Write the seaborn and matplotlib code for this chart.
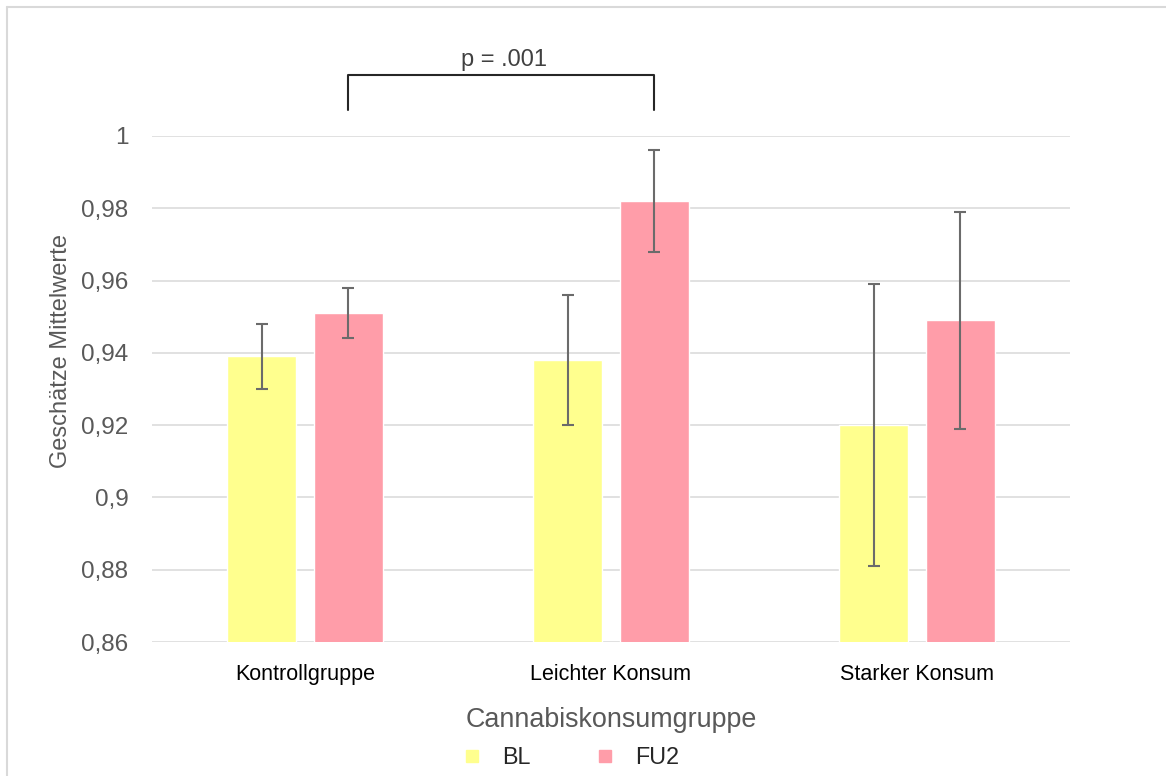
import pandas as pd
import seaborn as sns
import matplotlib.pyplot as plt
from matplotlib.lines import Line2D

# values
groups = ['Kontrollgruppe', 'Leichter Konsum', 'Starker Konsum']
times = ['BL', 'FU2']
bl_means = [0.939, 0.938, 0.920]
bl_err = [0.009, 0.018, 0.039]
fu2_means = [0.951, 0.982, 0.949]
fu2_err = [0.007, 0.014, 0.030]
yticks = [0.86, 0.88, 0.90, 0.92, 0.94, 0.96, 0.98, 1.0]
ytick_labels = ['0,86', '0,88', '0,9', '0,92', '0,94', '0,96', '0,98', '1']
colors = {'BL': '#FFFF8E', 'FU2': '#FF9DA9'}

df = pd.DataFrame({
    'Gruppe': groups * 2,
    'Zeitpunkt': ['BL'] * 3 + ['FU2'] * 3,
    'Mittelwert': bl_means + fu2_means,
    'Fehler': bl_err + fu2_err,
})

sns.set_theme(style='white')
plt.rcParams['font.family'] = ['Liberation Sans', 'DejaVu Sans']

fig = plt.figure(figsize=(11.66, 7.76), dpi=100)
ax = fig.add_axes([152 / 1166, 1 - 642 / 776, (1070 - 152) / 1166, (642 - 136) / 776])

sns.barplot(data=df, x='Gruppe', y='Mittelwert', hue='Zeitpunkt', order=groups,
            hue_order=times, palette=colors, width=0.567, gap=0.2, errorbar=None,
            saturation=1, ax=ax)

# error bars at the bar centres
for t, cont in zip(times, ax.containers):
    sub = df[df['Zeitpunkt'] == t].set_index('Gruppe').loc[groups]
    xs = [p.get_x() + p.get_width() / 2 for p in cont.patches]
    ax.errorbar(xs, sub['Mittelwert'], yerr=sub['Fehler'], fmt='none',
                ecolor='#6b6b6b', elinewidth=1.5, capsize=4.3, capthick=1.5, zorder=5)

ax.set_ylim(0.86, 1.0)
ax.set_xlim(-0.5, 2.5)
ax.set_yticks(yticks)
ax.set_yticklabels(ytick_labels)
ax.yaxis.grid(True, color='#d9d9d9', linewidth=1.1)
ax.set_axisbelow(True)
sns.despine(ax=ax, left=True, bottom=True, top=True, right=True)
ax.tick_params(axis='y', labelsize=17.5, labelcolor='#595959', length=0, pad=17)
ax.tick_params(axis='x', labelsize=15.5, labelcolor='black', length=0, pad=16)
ax.set_xlabel('Cannabiskonsumgruppe', fontsize=19.4, color='#595959', labelpad=16)
ax.set_ylabel('Geschätze Mittelwerte', fontsize=17, color='#595959')
ax.yaxis.set_label_coords(-0.087, 0.575)

# significance bracket
fu2_x = [p.get_x() + p.get_width() / 2 for p in ax.containers[1].patches]
ax.plot([fu2_x[0], fu2_x[0], fu2_x[1], fu2_x[1]], [1.0072, 1.0169, 1.0169, 1.0072],
        color='#262626', linewidth=1.5, clip_on=False)
ax.text((fu2_x[0] + fu2_x[1]) / 2 + 0.01, 1.0181, 'p = .001', ha='center', va='bottom',
        fontsize=17, color='#404040', clip_on=False)

# legend at the bottom
handles = [Line2D([], [], marker='s', linestyle='none', markersize=8,
                  markerfacecolor=colors[t], markeredgecolor=colors[t]) for t in times]
ax.get_legend().remove()
fig.legend(handles, times, loc='center', bbox_to_anchor=(571 / 1166, 1 - 758 / 776),
           ncol=2, frameon=False, fontsize=16.8, handlelength=0.8, handletextpad=0.9,
           columnspacing=2.8, borderpad=0)

# chart border
fig.add_artist(Line2D([7 / 1166, 7 / 1166], [0, 1 - 7 / 776], color='#d9d9d9',
                      linewidth=1.5, transform=fig.transFigure))
fig.add_artist(Line2D([7 / 1166, 1], [1 - 7 / 776, 1 - 7 / 776], color='#d9d9d9',
                      linewidth=1.5, transform=fig.transFigure))

fig.savefig('out.png', dpi=100)
